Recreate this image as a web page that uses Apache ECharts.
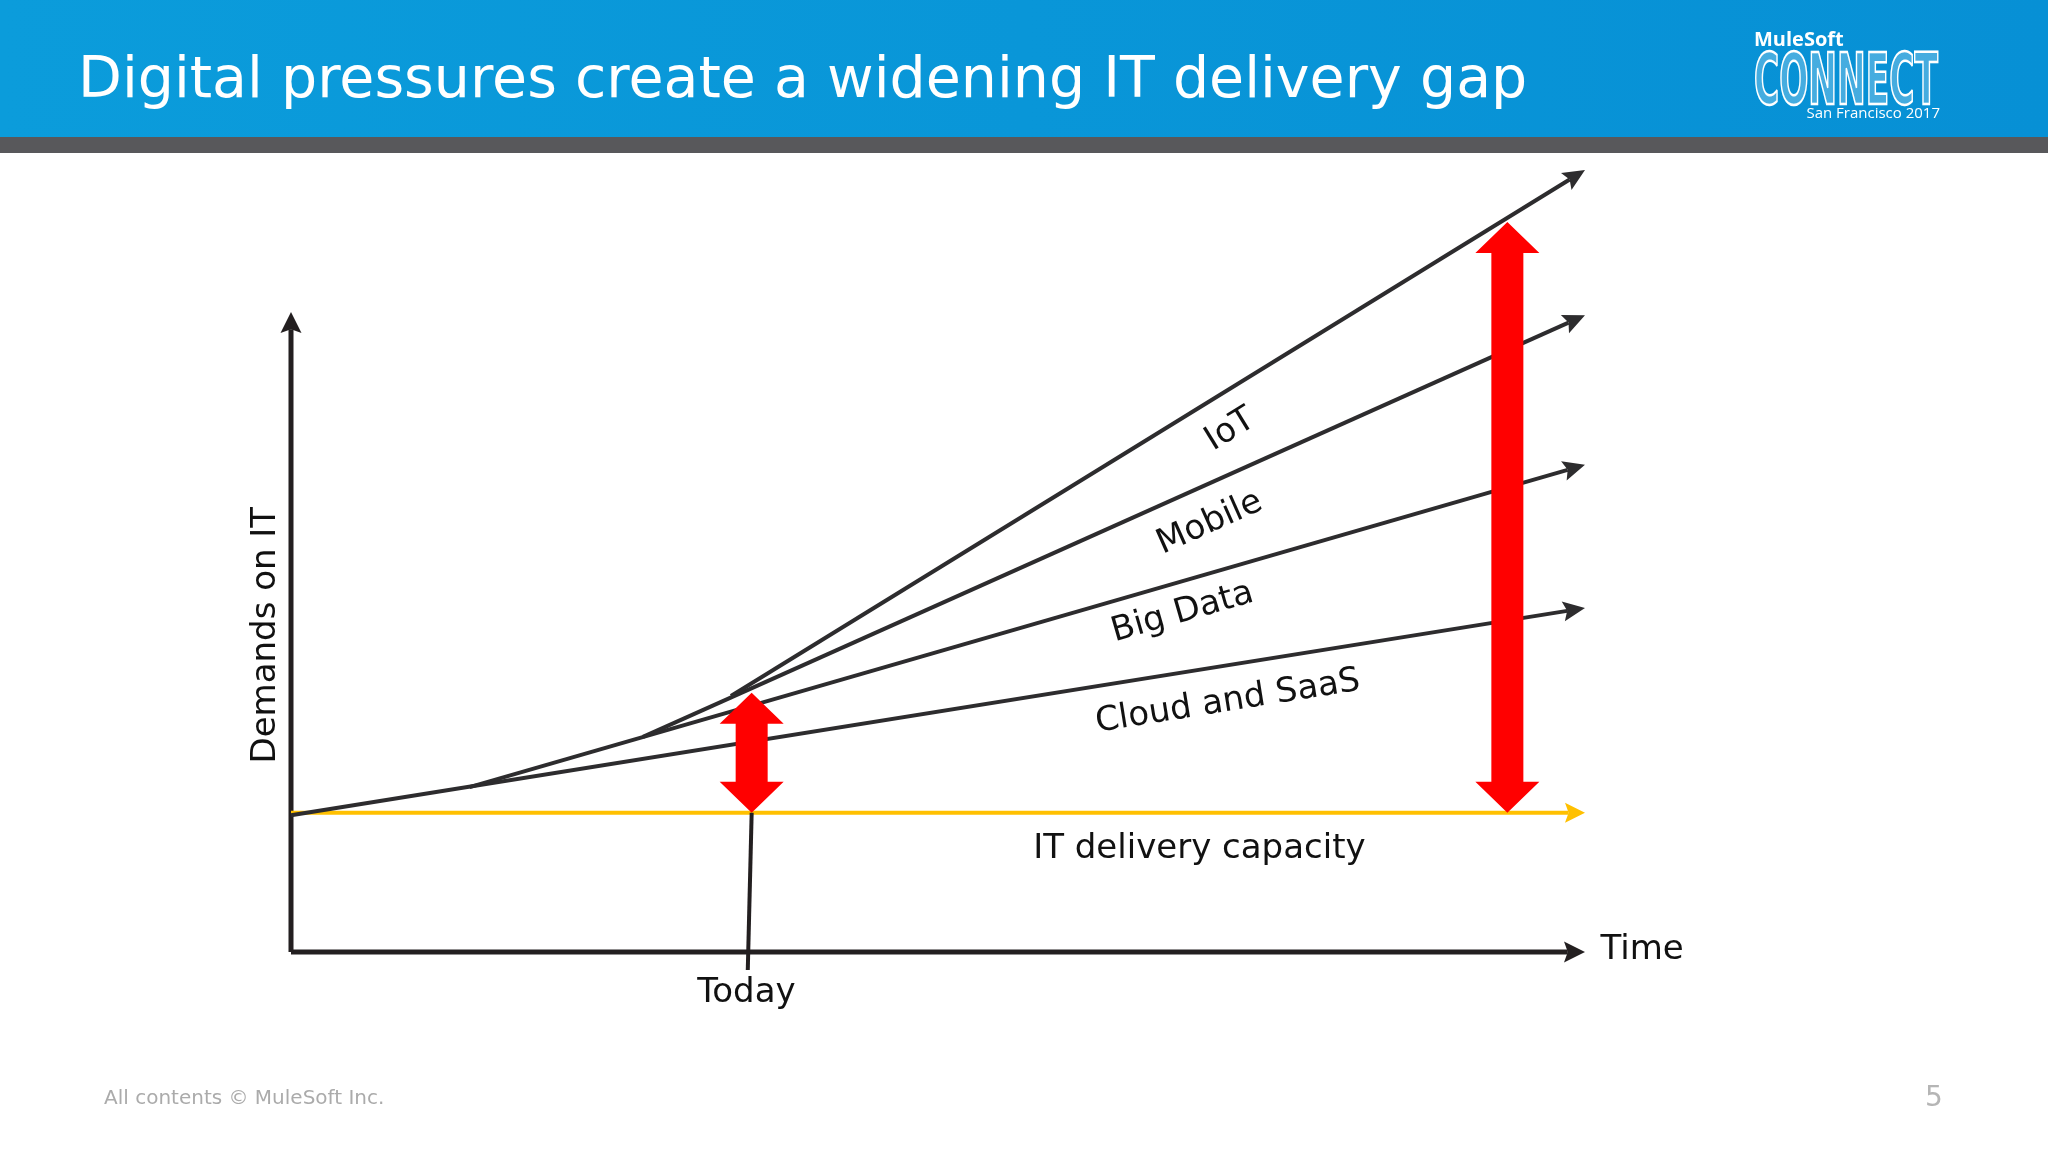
<!DOCTYPE html>
<html>
<head>
<meta charset="utf-8">
<title>Digital pressures create a widening IT delivery gap</title>
<script src="https://cdn.jsdelivr.net/npm/echarts@6/dist/echarts.min.js"></script>
<style>
  html, body { margin: 0; padding: 0; background: #fff; }
  #chart { width: 2048px; height: 1152px; }
</style>
</head>
<body>
<div id="chart"></div>
<script>
// demand trends, each one branches off the one below it
const trendNames = ['Cloud and SaaS', 'Big Data', 'Mobile', 'IoT'];
const trendStart = [[0, 17.1], [13.8, 20.6], [27.2, 26.9], [34.0, 32.0]];
const trendEnd = [[100, 43.0], [100, 60.9], [100, 79.6], [100, 97.75]];

// flat IT delivery capacity
const capacityName = 'IT delivery capacity';
const capacity = [[0, 17.4], [100, 17.4]];

// the gap today and later on
const gapTime = [35.6, 94.0];
const gapLow = [17.4, 17.4];
const gapHigh = [32.4, 91.25];

// "Today" marker
const todayLine = [[35.6, 17.4], [35.3, -2.25]];

// axis arrows [x1, y1, x2, y2]
const axisLines = [[0, 0, 100, 0], [0, 0, 0, 80]];

// text labels and where they sit
const labelText = trendNames.concat([capacityName, 'Today', 'Time', 'Demands on IT']);
const labelAt = [[72.4, 31.25], [68.9, 42.4], [71.0, 53.6], [72.6, 65.25],
                 [70.2, 12.9], [35.2, -5.1], [101.2, 0.25], [-1.9, 39.6]];

const FONT = '"DejaVu Sans", Verdana, sans-serif';

// straight arrow from (v0,v1) to (v2,v3)
let arrowItem = function (color, width, headL, headW) {
  return function (params, api) {
    const a = api.coord([api.value(0), api.value(1)]);
    const b = api.coord([api.value(2), api.value(3)]);
    const dx = b[0] - a[0], dy = b[1] - a[1];
    const len = Math.sqrt(dx * dx + dy * dy);
    const ux = dx / len, uy = dy / len;
    const nx = -uy, ny = ux;
    const bx = b[0] - ux * headL, by = b[1] - uy * headL;
    const notch = headL * 0.18;
    return {
      type: 'group',
      children: [
        {
          type: 'line',
          shape: { x1: a[0], y1: a[1], x2: bx + ux * notch, y2: by + uy * notch },
          style: { stroke: color, lineWidth: width }
        },
        {
          type: 'polygon',
          shape: {
            points: [
              [b[0], b[1]],
              [bx + nx * headW / 2, by + ny * headW / 2],
              [bx + ux * notch, by + uy * notch],
              [bx - nx * headW / 2, by - ny * headW / 2]
            ]
          },
          style: { fill: color }
        }
      ]
    };
  };
};

// red double-headed arrow for the gap
let gapItem = function (params, api) {
  const lo = api.coord([api.value(0), api.value(1)]);
  const hi = api.coord([api.value(0), api.value(2)]);
  const cx = lo[0];
  const hw = 32, sw = 16, hl = 31;
  return {
    type: 'polygon',
    shape: {
      points: [
        [cx, hi[1]], [cx + hw, hi[1] + hl], [cx + sw, hi[1] + hl],
        [cx + sw, lo[1] - hl], [cx + hw, lo[1] - hl], [cx, lo[1]],
        [cx - hw, lo[1] - hl], [cx - sw, lo[1] - hl],
        [cx - sw, hi[1] + hl], [cx - hw, hi[1] + hl]
      ]
    },
    style: { fill: '#ff0000' }
  };
};

// labels, trend labels follow their line
let labelItem = function (params, api) {
  const i = params.dataIndex;
  const p = api.coord([api.value(0), api.value(1)]);
  let rot = 0;
  let align = 'center';
  if (i < trendNames.length) {
    const a = api.coord(trendStart[i]);
    const b = api.coord(trendEnd[i]);
    rot = Math.atan2(a[1] - b[1], b[0] - a[0]);
  } else if (labelText[i] === 'Demands on IT') {
    rot = Math.PI / 2;
  } else if (labelText[i] === 'Time') {
    align = 'left';
  }
  return {
    type: 'text',
    x: p[0],
    y: p[1],
    rotation: rot,
    style: {
      text: labelText[i],
      fontSize: 34,
      fontFamily: FONT,
      fill: '#111',
      align: align,
      verticalAlign: 'middle'
    }
  };
};

let myChart = echarts.init(document.getElementById('chart'));
myChart.setOption({
  animation: false,
  backgroundColor: '#fff',
  grid: { left: 291, top: 152, width: 1294, height: 880 },
  xAxis: { type: 'value', min: 0, max: 100, show: false },
  yAxis: { type: 'value', min: -10, max: 100, show: false },
  graphic: [
    {
      type: 'rect',
      shape: { x: 0, y: 0, width: 2048, height: 137 },
      style: {
        fill: new echarts.graphic.LinearGradient(0, 0, 1, 0, [
          { offset: 0, color: '#0b9cdb' },
          { offset: 1, color: '#0790d5' }
        ])
      },
      z: 0
    },
    {
      type: 'rect',
      shape: { x: 0, y: 137, width: 2048, height: 16 },
      style: { fill: '#58585b' },
      z: 0
    },
    {
      type: 'text',
      x: 78,
      y: 82,
      style: {
        text: 'Digital pressures create a widening IT delivery gap',
        fontSize: 57,
        fontFamily: FONT,
        fill: '#fff',
        verticalAlign: 'middle'
      },
      z: 1
    },
    {
      type: 'text',
      x: 1754,
      y: 40,
      style: {
        text: 'MuleSoft',
        fontSize: 20,
        fontWeight: 'bold',
        fontFamily: '"Open Sans", sans-serif',
        fill: '#fff',
        verticalAlign: 'middle'
      },
      z: 1
    },
    {
      type: 'text',
      x: 1754,
      y: 85,
      scaleX: 0.53,
      style: {
        text: 'CONNECT',
        fontSize: 72,
        fontWeight: 'bold',
        fontFamily: '"Liberation Sans Narrow", "DejaVu Sans Condensed", sans-serif',
        fill: 'rgba(255,255,255,0.25)',
        stroke: '#fff',
        lineWidth: 2.5,
        verticalAlign: 'middle'
      },
      z: 1
    },
    {
      type: 'text',
      x: 1940,
      y: 114,
      style: {
        text: 'San Francisco 2017',
        fontSize: 15,
        fontFamily: '"Open Sans", sans-serif',
        fill: '#fff',
        align: 'right',
        verticalAlign: 'middle'
      },
      z: 1
    },
    {
      type: 'text',
      x: 104,
      y: 1099,
      style: {
        text: 'All contents \u00a9 MuleSoft Inc.',
        fontSize: 20,
        fontFamily: FONT,
        fill: '#ababab',
        verticalAlign: 'middle'
      },
      z: 1
    },
    {
      type: 'text',
      x: 1934,
      y: 1099,
      style: {
        text: '5',
        fontSize: 28,
        fontFamily: FONT,
        fill: '#b5b5b5',
        align: 'center',
        verticalAlign: 'middle'
      },
      z: 1
    }
  ],
  series: [
    {
      name: 'axes',
      type: 'custom',
      clip: false,
      renderItem: arrowItem('#231f20', 5, 21, 21),
      encode: { x: [0, 2], y: [1, 3] },
      data: axisLines
    },
    {
      name: 'Today',
      type: 'line',
      clip: false,
      showSymbol: false,
      lineStyle: { color: '#231f20', width: 4 },
      data: todayLine
    },
    {
      name: capacityName,
      type: 'custom',
      clip: false,
      renderItem: arrowItem('#ffc000', 4, 20, 20),
      encode: { x: [0, 2], y: [1, 3] },
      data: [capacity[0].concat(capacity[1])]
    },
    {
      name: 'trends',
      type: 'custom',
      clip: false,
      renderItem: arrowItem('#2d2c2e', 4, 22, 20),
      encode: { x: [0, 2], y: [1, 3] },
      data: trendStart.map(function (s, i) { return s.concat(trendEnd[i]); })
    },
    {
      name: 'gap',
      type: 'custom',
      clip: false,
      renderItem: gapItem,
      encode: { x: 0, y: [1, 2] },
      data: gapTime.map(function (t, i) { return [t, gapLow[i], gapHigh[i]]; })
    },
    {
      name: 'labels',
      type: 'custom',
      clip: false,
      renderItem: labelItem,
      encode: { x: 0, y: 1 },
      data: labelAt
    }
  ]
});

window.addEventListener('resize', function () {
  myChart.resize();
});
</script>
</body>
</html>
